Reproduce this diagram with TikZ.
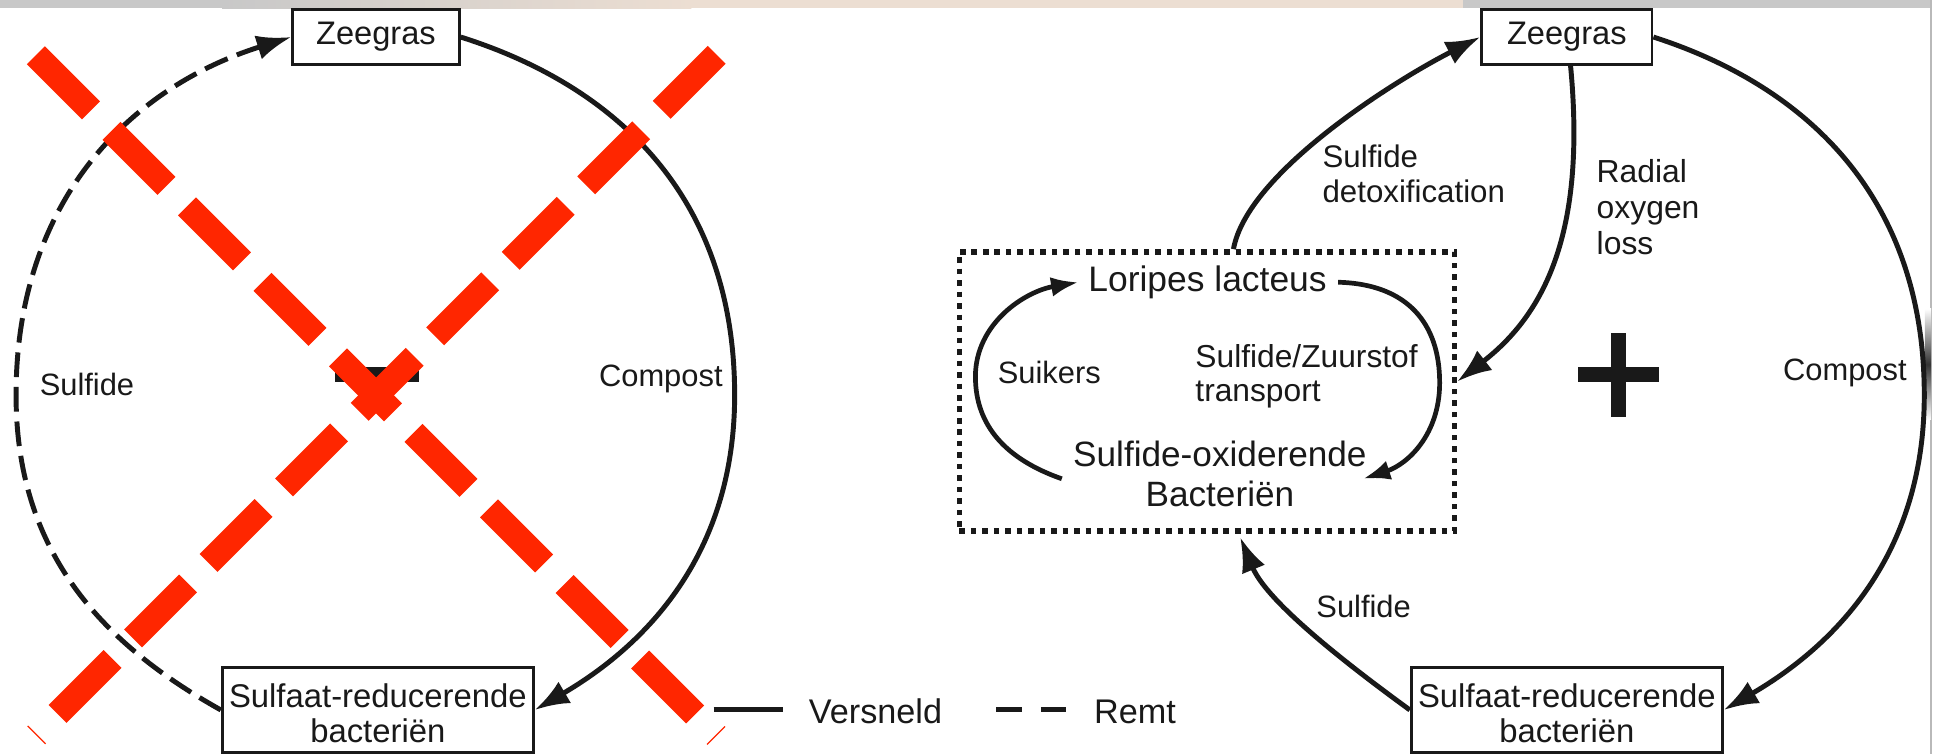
\documentclass[tikz,border=0pt]{standalone}
\usepackage{fontspec}
\setmainfont{Liberation Sans}
\usetikzlibrary{arrows.meta}
\definecolor{crossred}{RGB}{255,38,0}
\definecolor{ink}{RGB}{25,25,25}
\definecolor{bandgray}{RGB}{200,200,200}
\definecolor{bandbeige}{RGB}{236,222,210}

\begin{document}
\begin{tikzpicture}[x=1pt,y=-1pt,
  every node/.style={inner sep=0pt, text=ink},
  box/.style={draw=ink, line width=2.3pt, fill=white, inner sep=0pt, align=center},
  flow/.style={draw=ink, line width=4pt, -{Latex[length=28pt,width=20pt]}},
  flowsmall/.style={draw=ink, line width=3.8pt, -{Latex[length=22pt,width=16pt]}},
  inhibit/.style={flow, dash pattern=on 20pt off 8pt},
  crossbar/.style={draw=crossred, line width=20.5pt, dash pattern=on 63pt off 23.5pt},
  group/.style={draw=ink, line width=4.5pt, dash pattern=on 4.5pt off 4.8pt,
                minimum width=401pt, minimum height=226pt},
  f25/.style={font=\fontsize{25}{28}\selectfont},
  f28/.style={font=\fontsize{28.5}{32.6}\selectfont},
  legend/.style={font=\fontsize{27.7}{30}\selectfont},
]
\useasboundingbox (0,0) rectangle (1568,611);

% header strip and right frame line
\fill[bandgray] (0,0) rectangle (180,6.5);
\shade[left color=bandgray, right color=bandbeige] (180,0) rectangle (560,6.5);
\fill[bandbeige] (560,0) rectangle (1185,6.5);
\fill[bandgray] (1185,0) rectangle (1564,6.5);
\draw[gray!55, line width=1pt] (1564,0) -- (1564,611);
\shade[top color=white, bottom color=white, middle color=black!80] (1559,250) rectangle (1564,340);

% ---------- left cycle ----------
\node[box, minimum width=135pt, minimum height=44pt, font=\fontsize{26.4}{30}\selectfont] (zl) at (304.5,30) {Zeegras};
\node[box, minimum width=252pt, minimum height=69pt, font=\fontsize{26.6}{28}\selectfont] (sl) at (306,575) {\rule{0pt}{25pt}Sulfaat-reducerende\\bacteriën};
\node[f25, anchor=base west] (lsulf) at (32,320) {Sulfide};
\node[f25, anchor=base west] (lcomp) at (485,313) {Compost};
\fill[ink] (271,297) rectangle (339,309);

\draw[flow] (zl.east) .. controls (500,70) and (595,160) .. (595,320)
            .. controls (595,450) and (522,523) .. (sl.east);
\draw[inhibit] (sl.west) .. controls (86,523) and (13,450) .. (13,320)
               .. controls (13,160) and (108,70) .. (zl.west);

% ---------- legend ----------
\draw[ink, line width=4pt] (578,575) -- (634,575);
\node[legend, anchor=base west] (lv) at (655,586) {Versneld};
\draw[ink, line width=4pt, dash pattern=on 20.5pt off 15.5pt] (807,575) -- (864,575);
\node[legend, anchor=base west] (lr) at (886,586) {Remt};

% ---------- right cycle ----------
\node[box, minimum width=138pt, minimum height=44pt, font=\fontsize{26.4}{30}\selectfont] (zr) at (1269,30) {Zeegras};
\node[box, minimum width=252pt, minimum height=69pt, font=\fontsize{26.6}{28}\selectfont] (sr) at (1269,575) {\rule{0pt}{25pt}Sulfaat-reducerende\\bacteriën};
\node[group] (sym) at (977.5,317) {};

\node[font=\fontsize{28.7}{32}\selectfont, anchor=base] (lor) at (978,236) {Loripes lacteus};
\node[f25, anchor=base west] (suik) at (808,311) {Suikers};
\node[font=\fontsize{25.7}{27.5}\selectfont, anchor=base west] (szt) at (968,298)
  {\begin{tabular}[t]{@{}l@{}}Sulfide/Zuurstof\\transport\end{tabular}};
\node[f28, anchor=base] (sob) at (988,378)
  {\begin{tabular}[t]{@{}c@{}}Sulfide-oxiderende\\Bacteriën\end{tabular}};

\node[font=\fontsize{25.3}{28}\selectfont, anchor=base west] (tdet) at (1071,136)
  {\begin{tabular}[t]{@{}l@{}}Sulfide\\detoxification\end{tabular}};
\node[font=\fontsize{25.8}{29}\selectfont, anchor=base west] (trad) at (1293,148)
  {\begin{tabular}[t]{@{}l@{}}Radial\\oxygen\\loss\end{tabular}};
\node[f25, anchor=base west] (rcomp) at (1444,308) {Compost};
\node[f25, anchor=base west] (rsulf) at (1066,500) {Sulfide};

\fill[ink] (1278,297) rectangle (1344,309);
\fill[ink] (1305,270) rectangle (1317,338);

\draw[flow] ([xshift=21.5pt]sym.north) .. controls (1010,140) and (1130,65) .. (zr.west);
\draw[flow] ([xshift=3pt]zr.south) .. controls (1285,190) and (1250,255) .. ([yshift=8pt]sym.east);
\draw[flow] (zr.east) .. controls (1463.5,70) and (1558.5,160) .. (1558.5,320)
            .. controls (1558.5,450) and (1485.5,523) .. (sr.east);
\draw[flow] (sr.west) .. controls (1080,530) and (1025,485) .. ([xshift=27pt,yshift=-3pt]sym.south);

\draw[flowsmall] ([xshift=-9pt]sob.west) .. controls (815,372) and (790,345) .. (790,305)
                 .. controls (790,262) and (830,236) .. ([xshift=-8pt]lor.west);
\draw[flowsmall] ([xshift=9pt]lor.east) .. controls (1140,230) and (1166,262) .. (1166,310)
                 .. controls (1166,352) and (1140,376) .. ([xshift=-3pt]sob.east);

% ---------- crossing-out ----------
\draw[crossbar] (29.1,44.8) -- (580.3,596.0);
\draw[crossbar] (580.5,44.4) -- (29.3,595.6);
\end{tikzpicture}
\end{document}
